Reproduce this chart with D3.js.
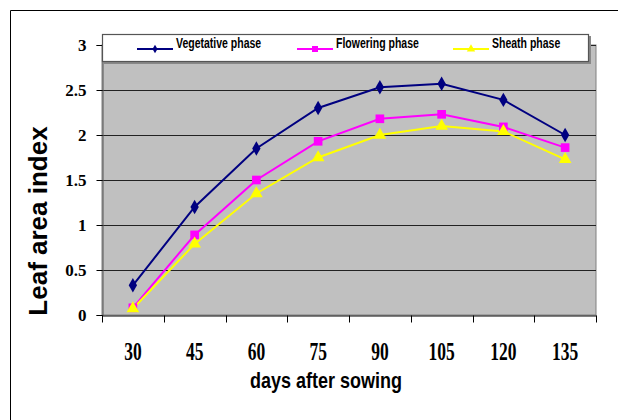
<!DOCTYPE html>
<meta charset="utf-8">
<style>
    body { margin: 0; background: #fff; }
    .ytick text { font: bold 17px "Liberation Serif", "Times New Roman", serif; }
    .xtick text { font: bold 17.5px "Liberation Serif", "Times New Roman", serif; }
    .legend text { font: bold 10.5px "Liberation Sans", Arial, sans-serif; }
</style>
<svg width="618" height="420"></svg>
<script src="https://cdn.jsdelivr.net/npm/d3@7/dist/d3.min.js"></script>
<script>

    var days = ["30", "45", "60", "75", "90", "105", "120", "135"];
    var vegetative = [0.33, 1.2, 1.85, 2.3, 2.53, 2.57, 2.39, 2.0];
    var flowering = [0.08, 0.89, 1.5, 1.93, 2.18, 2.23, 2.09, 1.86];
    var sheath = [0.07, 0.79, 1.35, 1.75, 2.0, 2.1, 2.04, 1.73];
    var yTicks = [0, 0.5, 1, 1.5, 2, 2.5, 3];

    var series = [
        {name: "Vegetative phase", values: vegetative, color: "#000080", shape: d3.symbolDiamond, size: 60, lsize: 22},
        {name: "Flowering phase", values: flowering, color: "#ff00ff", shape: d3.symbolSquare, size: 75, lsize: 36},
        {name: "Sheath phase", values: sheath, color: "#ffff00", shape: d3.symbolTriangle, size: 70, lsize: 30}
    ];

    var plotL = 102, plotR = 596, plotT = 45, plotB = 315;

    var svg = d3.select("svg");

    // outer frame
    svg.append("path")
        .attr("d", "M10.5,420 V10.5 H618")
        .attr("fill", "none")
        .attr("stroke", "#000")
        .attr("stroke-width", 1);

    var x = d3.scaleBand().domain(days).range([plotL, plotR]);
    var y = d3.scaleLinear().domain([0, 3]).range([plotB, plotT]);

    // plot area
    svg.append("rect")
        .attr("x", plotL).attr("y", plotT)
        .attr("width", plotR - plotL).attr("height", plotB - plotT)
        .attr("fill", "#c0c0c0")
        .attr("stroke", "#808080");

    // grid
    svg.selectAll(".grid")
        .data(yTicks.slice(1))
        .enter().append("line")
        .attr("class", "grid")
        .attr("x1", plotL).attr("x2", plotR)
        .attr("y1", function(d) { return Math.round(y(d)) + 0.5; })
        .attr("y2", function(d) { return Math.round(y(d)) + 0.5; })
        .attr("stroke", "#222");

    // y axis
    var yAxis = svg.append("g")
        .attr("class", "ytick")
        .attr("transform", "translate(" + (plotL + 0.5) + ",0)")
        .call(d3.axisLeft(y).tickValues(yTicks).tickSize(6).tickPadding(10)
            .tickFormat(function(d) { return d; }));
    yAxis.selectAll("line, path").attr("stroke", "#000");
    yAxis.select(".domain").attr("stroke", "#555");
    yAxis.selectAll(".tick text").attr("fill", "#000");

    // x axis
    var xAxis = svg.append("g")
        .attr("class", "xtick")
        .attr("transform", "translate(0," + (plotB + 0.5) + ")")
        .call(d3.axisBottom(x).tickSize(0));
    xAxis.select(".domain").attr("stroke", "#000");
    xAxis.selectAll(".tick text")
        .attr("fill", "#000")
        .attr("y", 0).attr("dy", 0)
        .attr("transform", "translate(0,44) scale(1,1.4)");

    var bounds = days.map(function(d) { return x(d); }).concat([plotR]);
    xAxis.selectAll(".bt")
        .data(bounds)
        .enter().append("line")
        .attr("x1", function(d) { return Math.round(d) + 0.5; })
        .attr("x2", function(d) { return Math.round(d) + 0.5; })
        .attr("y1", 0).attr("y2", 7)
        .attr("stroke", "#000");

    // lines
    var line = d3.line()
        .x(function(d, i) { return x(days[i]) + x.bandwidth() / 2; })
        .y(function(d) { return y(d); });

    series.forEach(function(s) {
        svg.append("path")
            .datum(s.values)
            .attr("d", line)
            .attr("fill", "none")
            .attr("stroke", s.color)
            .attr("stroke-width", 2);
    });

    series.forEach(function(s) {
        svg.selectAll(null)
            .data(s.values)
            .enter().append("path")
            .attr("d", d3.symbol().type(s.shape).size(s.size))
            .attr("transform", function(d, i) {
                return "translate(" + (x(days[i]) + x.bandwidth() / 2) + "," + y(d) + ")";
            })
            .attr("fill", s.color);
    });

    // legend
    var legend = svg.append("g").attr("class", "legend");
    legend.append("rect")
        .attr("x", 104).attr("y", 36)
        .attr("width", 487).attr("height", 28)
        .attr("fill", "#888");
    legend.append("rect")
        .attr("x", 102.5).attr("y", 34.5)
        .attr("width", 486).attr("height", 27)
        .attr("fill", "#fff")
        .attr("stroke", "#555")
        .attr("stroke-width", 1.2);

    var lx = [137, 297, 453];
    series.forEach(function(s, i) {
        var g = legend.append("g").attr("transform", "translate(" + lx[i] + ",49)");
        g.append("line")
            .attr("x1", 0).attr("x2", 36)
            .attr("stroke", s.color).attr("stroke-width", 2);
        g.append("path")
            .attr("d", d3.symbol().type(s.shape).size(s.lsize))
            .attr("transform", "translate(18,0)")
            .attr("fill", s.color);
        g.append("text")
            .attr("transform", "translate(39,-1) scale(1,1.35)")
            .text(s.name);
    });

    // axis titles
    svg.append("text")
        .attr("transform", "translate(47,221) rotate(-90)")
        .attr("text-anchor", "middle")
        .style("font", "bold 26px 'Liberation Sans', Arial, sans-serif")
        .text("Leaf area index");

    svg.append("text")
        .attr("transform", "translate(326,388) scale(1,1.2)")
        .attr("text-anchor", "middle")
        .style("font", "bold 18px 'Liberation Sans', Arial, sans-serif")
        .text("days after sowing");

</script>
